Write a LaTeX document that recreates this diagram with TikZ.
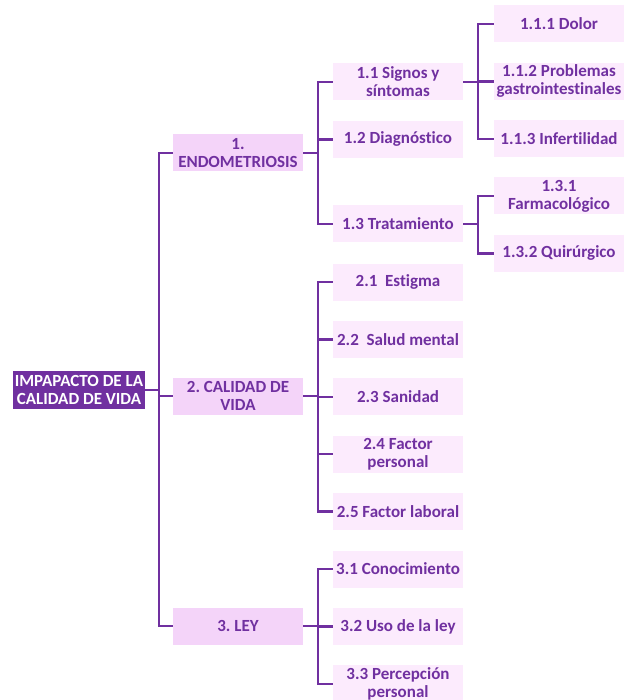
\documentclass[tikz,border=0pt]{standalone}
\usepackage{fontspec}
\setmainfont{Carlito}[Ligatures=NoCommon]
\frenchspacing
\usetikzlibrary{positioning}

\definecolor{morado}{HTML}{7030A0}
\definecolor{rosa}{HTML}{F4D4F9}
\definecolor{rosaclaro}{HTML}{FCEBFD}

\tikzset{
  caja/.style={rectangle, minimum width=130, minimum height=37, inner sep=1, align=center,
    text=morado, font=\bfseries\fontsize{17}{18}\selectfont},
  raiz/.style={caja, fill=morado, text=white, minimum width=132, minimum height=38, inner sep=0},
  nivelA/.style={caja, fill=rosa},
  nivelB/.style={caja, fill=rosaclaro},
  rama/.style={draw=morado, line width=2.5}
}

\begin{document}
\begin{tikzpicture}[x=1pt, y=-1pt]
  \useasboundingbox (0,0) rectangle (623,700);
  % root and first level
  \node [raiz] (r) at (79,390) {IMPAPACTO DE LA\\CALIDAD DE VIDA};
  \node [nivelA] (n1) at (238,153) {1.\\ENDOMETRIOSIS};
  \node [nivelA] (n2) at (238,396) {2. CALIDAD DE\\VIDA};
  \node [nivelA] (n3) at (238,626) {3. LEY};
  % second level
  \node [nivelB] (n11) at (398,82) {1.1 Signos y\\síntomas};
  \node [nivelB, below = 20pt of n11] (n12) {1.2 Diagnóstico};
  \node [nivelB] (n13) at (398,224) {1.3 Tratamiento};
  \node [nivelB] (n21) at (398,282) {2.1~ Estigma};
  \node [nivelB, below = 20pt of n21] (n22) {2.2~ Salud mental};
  \node [nivelB, below = 20pt of n22] (n23) {2.3 Sanidad};
  \node [nivelB, below = 20pt of n23] (n24) {2.4 Factor\\personal};
  \node [nivelB, below = 20pt of n24] (n25) {2.5 Factor laboral};
  \node [nivelB] (n31) at (398,569) {3.1 Conocimiento};
  \node [nivelB, below = 20pt of n31] (n32) {3.2 Uso de la ley};
  \node [nivelB, below = 20pt of n32] (n33) {3.3 Percepción\\personal};
  % third level
  \node [nivelB] (n111) at (559,24) {1.1.1 Dolor};
  \node [nivelB, below = 20pt of n111] (n112) {1.1.2 Problemas\\gastrointestinales};
  \node [nivelB, below = 20pt of n112] (n113) {1.1.3 Infertilidad};
  \node [nivelB] (n131) at (559,196) {1.3.1\\Farmacológico};
  \node [nivelB, below = 20pt of n131] (n132) {1.3.2 Quirúrgico};
  % brackets
  \draw [rama] (r.east) -- ++(14,0) coordinate (t0);
  \draw [rama] (t0) |- (n1.west);
  \draw [rama] (t0) |- (n2.west);
  \draw [rama] (t0) |- (n3.west);
  \draw [rama] (n1.east) -- ++(15,0) coordinate (t1);
  \draw [rama] (t1) |- (n11.west);
  \draw [rama] (t1) |- (n12.west);
  \draw [rama] (t1) |- (n13.west);
  \draw [rama] (n2.east) -- ++(15,0) coordinate (t2);
  \draw [rama] (t2) |- (n21.west);
  \draw [rama] (t2) |- (n22.west);
  \draw [rama] (t2) |- (n23.west);
  \draw [rama] (t2) |- (n24.west);
  \draw [rama] (t2) |- (n25.west);
  \draw [rama] (n3.east) -- ++(15,0) coordinate (t3);
  \draw [rama] (t3) |- (n31.west);
  \draw [rama] (t3) |- (n32.west);
  \draw [rama] (t3) |- (n33.west);
  \draw [rama] (n11.east) -- ++(15,0) coordinate (t11);
  \draw [rama] (t11) |- (n111.west);
  \draw [rama] (t11) |- (n112.west);
  \draw [rama] (t11) |- (n113.west);
  \draw [rama] (n13.east) -- ++(15,0) coordinate (t13);
  \draw [rama] (t13) |- (n131.west);
  \draw [rama] (t13) |- (n132.west);
\end{tikzpicture}
\end{document}
